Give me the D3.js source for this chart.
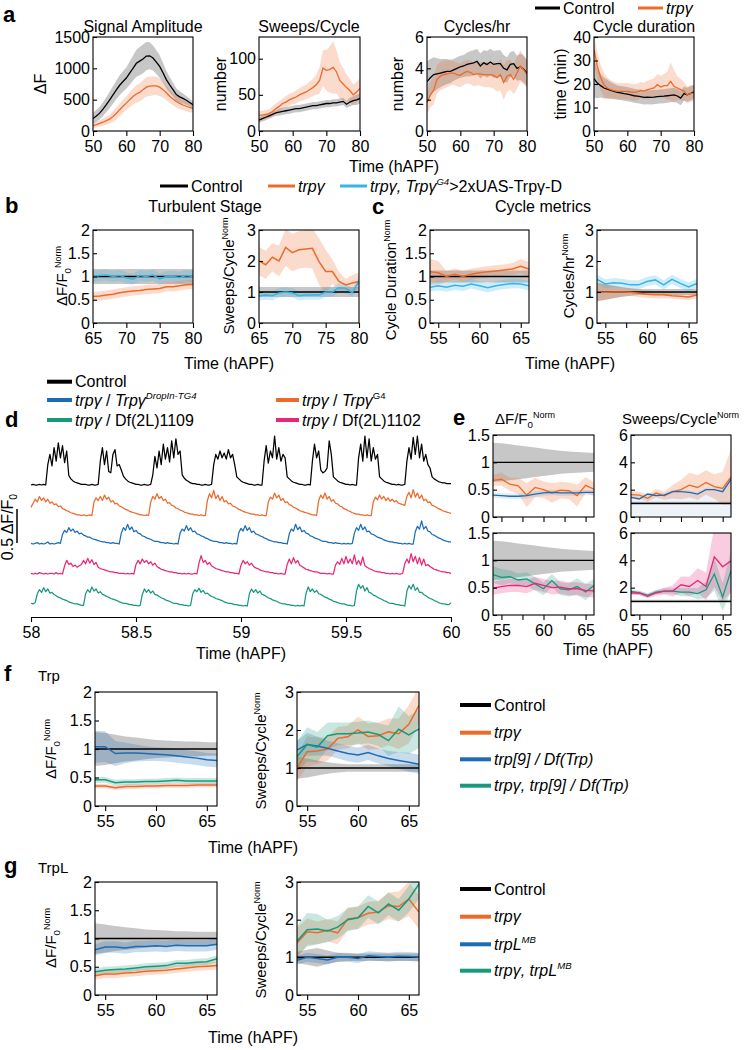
<!doctype html>
<html>
<head>
<meta charset="utf-8">
<title>Trpγ calcium cycles</title>
<script src="https://cdnjs.cloudflare.com/ajax/libs/d3/7.8.5/d3.min.js"></script>
<style>
  body { margin: 0; background: #fff; }
</style>
</head>
<body>
<div id="fig"></div>
<script>
// ---------- data: panel a (raw metrics, 50-80 hAPF) ----------
const hoursA = [50,51,52,53,54,55,56,57,58,59,60,61,62,63,64,65,66,67,68,69,70,71,72,73,74,75,76,77,78,79,80];
const ampCtrl = [200,240,285,350,420,495,575,655,730,790,845,925,1000,1080,1115,1150,1195,1200,1165,1100,1030,930,820,735,660,580,545,520,490,455,420];
const ampCtrlErr = [90,95,100,110,120,130,140,150,160,165,170,185,200,215,225,230,225,215,200,190,180,160,140,125,110,100,90,80,70,60,55];
const ampTrpg = [85,100,120,140,165,190,230,280,340,395,445,500,550,590,615,660,700,715,720,720,700,660,610,555,510,470,440,415,395,375,360];
const ampTrpgErr = [40,45,50,55,65,75,85,95,100,105,110,120,130,140,145,150,155,155,150,145,140,130,120,110,100,95,90,85,80,75,70];
const sweepsCtrl = [15,17,19,21,23,25,26,27,28,29,30,31,31,32,33,34,35,35,36,37,38,38,39,39,40,41,37,40,42,43,45];
const sweepsCtrlErr = [4,4,4,4,4,4,5,5,5,5,5,5,5,5,5,5,5,5,5,5,5,5,5,5,5,5,5,6,6,7,7];
const sweepsTrpg = [22,22,23,24,27,31,34,38,40,43,45,47,50,52,54,57,60,64,70,87,84,85,88,82,70,65,60,56,50,54,59];
const sweepsTrpgErr = [6,6,6,6,7,7,7,7,8,8,8,9,9,10,10,11,12,14,18,25,28,32,36,30,25,22,18,16,14,14,14];
const cphCtrl = [3.15,3.4,3.6,3.65,3.7,3.75,3.8,3.8,3.9,4.0,4.1,4.15,4.25,4.3,4.35,4.45,4.15,4.35,4.25,4.4,4.25,4.3,4.3,4.0,3.9,4.25,4.3,4.0,4.1,3.95,3.7];
const cphCtrlErr = [1.3,1.2,1.1,1.0,0.9,0.85,0.8,0.75,0.7,0.7,0.7,0.7,0.75,0.8,0.8,0.8,0.8,0.8,0.85,0.85,0.85,0.85,0.85,0.85,0.8,0.8,0.8,0.8,0.85,0.85,0.85];
const cphTrpg = [1.8,2.3,2.6,3.3,3.5,3.6,3.65,3.7,3.7,3.6,3.55,3.7,3.8,3.75,3.6,3.65,3.65,3.6,3.6,3.6,3.55,3.4,3.6,3.1,3.5,3.6,3.3,3.7,4.15,3.9,3.6];
const cphTrpgErr = [0.7,0.8,0.9,0.9,0.9,0.9,0.85,0.8,0.75,0.75,0.75,0.75,0.75,0.75,0.75,0.75,0.75,0.8,0.8,0.8,0.85,0.9,1.0,1.1,1.0,0.95,0.95,1.0,1.0,0.9,0.85];
const durCtrl = [22.3,20.4,19.3,18.3,17.8,17.3,16.9,16.4,16.2,15.9,15.7,15.4,15.0,14.8,14.6,14.3,14.4,14.3,14.4,14.6,14.7,14.8,15.0,15.2,15.4,14.9,14.0,15.9,15.4,16.0,16.7];
const durCtrlErr = [8,6.5,5,4.5,4,3.5,3.2,3,3,3,3,3,3,3,3,3,3,3,3,3,3,3,3,3,3,3,3,3,3,3,3];
const durTrpg = [34.7,27.6,22.6,19.7,18.3,17.6,17.2,16.9,16.9,16.9,16.9,16.6,16.4,16.6,17.3,17.0,17.6,17.9,18.3,19.7,18.7,19.3,19.3,21.1,19.0,18.3,17.6,16.9,15.4,16.0,16.1];
const durTrpgErr = [6,6,5.5,5,4.5,4,3.8,3.5,3.5,3.5,3.5,3.5,3.5,3.5,3.5,3.5,3.8,4,4.2,4.5,4.8,5,6,8,7,5,4.5,4,3.5,3.5,3.5];

// ---------- panel b (turbulent stage, normalised) ----------
const hoursB = [65,66,67,68,69,70,71,72,73,74,75,76,77,78,79,80];
const onesB = [1,1,1,1,1,1,1,1,1,1,1,1,1,1,1,1];
const bAmpTrpg = [0.57,0.58,0.6,0.62,0.65,0.67,0.69,0.7,0.72,0.73,0.74,0.78,0.78,0.8,0.82,0.83];
const bAmpRescue = [1.0,1.02,1.03,1.0,1.02,0.97,0.94,1.02,1.0,1.03,0.95,1.0,1.0,0.98,1.02,1.0];
const bSwTrpg = [2.0,1.88,2.12,2.0,2.44,2.27,2.36,2.39,2.41,1.98,1.66,1.66,1.34,1.23,1.29,1.34];
const bSwTrpgErr = [0.45,0.45,0.45,0.5,0.6,0.6,0.6,0.6,0.65,0.75,0.7,0.4,0.3,0.2,0.25,0.3];
const bSwRescue = [0.87,0.9,0.88,0.97,1.0,0.97,0.88,0.9,0.9,0.9,1.0,1.0,1.14,1.12,0.98,1.35];

// ---------- 54-66 hAPF panels (c, e, f, g) ----------
const hours = [54,55,56,57,58,59,60,61,62,63,64,65,66];
const ones = [1,1,1,1,1,1,1,1,1,1,1,1,1];
const cDurTrpg = [1.1,1.08,1.0,1.05,1.0,1.05,1.08,1.1,1.12,1.14,1.16,1.22,1.16];
const cDurTrpgErr = [0.28,0.25,0.12,0.12,0.12,0.12,0.12,0.12,0.12,0.12,0.13,0.15,0.15];
const cDurRescue = [0.77,0.8,0.77,0.81,0.79,0.84,0.8,0.76,0.8,0.83,0.85,0.84,0.8];
const cCphCtrlErr = [0.3,0.25,0.2,0.15,0.12,0.1,0.1,0.1,0.1,0.1,0.1,0.1,0.1];
const cCphTrpg = [1.0,0.99,1.0,1.0,0.99,0.96,0.93,0.91,0.91,0.88,0.86,0.84,0.9];
const cCphTrpgErr = [0.3,0.25,0.2,0.15,0.12,0.12,0.12,0.12,0.12,0.1,0.1,0.1,0.1];
const cCphRescue = [1.41,1.26,1.3,1.28,1.23,1.23,1.34,1.39,1.23,1.41,1.28,1.16,1.28];

const eAmpCtrlErr = [0.36,0.35,0.33,0.31,0.29,0.27,0.25,0.23,0.21,0.2,0.19,0.18,0.17];
const eAmpG4 = [0.67,0.69,0.6,0.57,0.4,0.54,0.5,0.44,0.49,0.48,0.39,0.58,0.51];
const eAmpG4Err = [0.1,0.12,0.12,0.15,0.22,0.18,0.15,0.18,0.15,0.15,0.2,0.15,0.12];
const eAmpDropIn = [0.4,0.39,0.38,0.38,0.39,0.42,0.44,0.45,0.44,0.44,0.44,0.45,0.45];
const eSwG4 = [1.63,1.6,1.37,1.75,1.56,1.85,2.0,2.33,2.16,2.52,2.23,2.09,2.93];
const eSwG4Err = [0.25,0.25,0.25,0.3,0.3,0.5,0.7,0.9,0.9,0.9,0.9,1.2,2.0];
const eSwDropIn = [1.44,1.32,1.68,1.56,1.6,1.85,1.85,1.8,1.68,2.0,2.0,1.85,2.76];
const eSwDropInLo = [0.1,0.1,0.1,0.1,0.1,0.1,0.1,0.1,0.1,0.1,0.1,0.1,0.1];
const eSwDropInHi = [1.6,1.5,1.8,1.7,1.75,2.0,2.0,1.95,1.85,2.15,2.15,2.0,2.9];
const eAmpDf1109 = [0.74,0.69,0.7,0.64,0.66,0.57,0.48,0.63,0.48,0.46,0.52,0.42,0.54];
const eAmpDf1109Err = [0.15,0.15,0.12,0.12,0.12,0.12,0.12,0.12,0.12,0.12,0.15,0.15,0.12];
const eAmpDf1102 = [0.49,0.52,0.54,0.54,0.52,0.58,0.54,0.5,0.51,0.48,0.48,0.45,0.44];
const eSwDf1109 = [1.73,1.61,1.44,1.68,1.75,1.75,1.68,1.68,1.56,1.85,3.0,1.32,3.24];
const eSwDf1109Err = [0.15,0.15,0.15,0.15,0.2,0.2,0.3,0.3,0.4,0.6,1.2,1.0,1.5];
const eSwDf1102 = [1.61,1.61,1.37,1.61,1.75,1.75,2.21,2.09,2.52,2.09,4.25,3.53,3.96];
const eSwDf1102Err = [0.15,0.15,0.15,0.2,0.25,0.4,0.6,0.7,0.9,1.0,2.2,2.5,2.3];

const fAmpCtrlErr = [0.3,0.28,0.25,0.22,0.2,0.18,0.16,0.15,0.14,0.13,0.13,0.12,0.12];
const fAmpTrpg = [0.35,0.35,0.32,0.34,0.34,0.35,0.35,0.36,0.36,0.36,0.37,0.37,0.37];
const fAmpTrp9 = [1.04,1.04,0.92,0.93,0.93,0.92,0.91,0.9,0.88,0.86,0.84,0.81,0.8];
const fAmpTrp9Err = [0.28,0.27,0.22,0.18,0.15,0.13,0.12,0.12,0.12,0.12,0.12,0.12,0.12];
const fAmpDouble = [0.46,0.46,0.41,0.42,0.42,0.43,0.43,0.44,0.45,0.44,0.44,0.44,0.44];
const fSwCtrlErr = [0.28,0.25,0.2,0.15,0.12,0.1,0.1,0.1,0.1,0.1,0.1,0.1,0.1];
const fSwTrpg = [1.0,1.43,1.45,1.5,1.78,1.82,2.0,1.83,1.85,1.95,1.9,2.15,2.65];
const fSwTrpgErr = [0.35,0.4,0.35,0.3,0.3,0.3,0.35,0.35,0.35,0.35,0.4,0.5,0.5];
const fSwTrp9 = [1.47,1.62,1.58,1.52,1.45,1.38,1.34,1.41,1.32,1.25,1.2,1.15,1.1];
const fSwTrp9Err = [0.25,0.3,0.25,0.2,0.2,0.2,0.2,0.2,0.2,0.2,0.22,0.25,0.25];
const fSwDouble = [1.3,1.62,1.55,1.85,1.9,1.9,1.92,1.95,1.88,1.72,2.02,1.87,2.03];
const fSwDoubleErr = [0.4,0.45,0.4,0.35,0.3,0.3,0.3,0.3,0.3,0.4,0.6,0.5,0.5];

const gAmpCtrlErr = [0.27,0.25,0.22,0.2,0.18,0.16,0.15,0.14,0.13,0.13,0.12,0.12,0.12];
const gAmpTrpg = [0.34,0.37,0.37,0.39,0.4,0.42,0.43,0.44,0.46,0.48,0.5,0.51,0.52];
const gAmpTrpL = [0.8,0.85,0.85,0.83,0.86,0.86,0.87,0.86,0.88,0.87,0.87,0.87,0.9];
const gAmpDouble = [0.41,0.44,0.45,0.46,0.48,0.5,0.51,0.52,0.56,0.56,0.58,0.59,0.64];
const gSwCtrlErr = [0.15,0.2,0.25,0.18,0.12,0.1,0.1,0.1,0.1,0.1,0.1,0.1,0.1];
const gSwTrpg = [1.38,1.68,1.65,1.72,1.65,2.02,2.05,2.17,2.2,2.37,2.35,2.55,2.2];
const gSwTrpgErr = [0.4,0.35,0.3,0.3,0.3,0.3,0.3,0.3,0.3,0.35,0.4,0.45,0.45];
const gSwTrpL = [0.92,1.0,0.97,0.93,1.0,1.0,0.97,1.04,1.02,1.0,1.03,1.02,1.0];
const gSwDouble = [1.43,1.73,1.75,1.7,1.8,2.0,2.05,2.35,2.18,2.42,2.25,2.55,2.95];
const gSwDoubleErr = [0.4,0.45,0.4,0.3,0.3,0.3,0.3,0.3,0.3,0.3,0.3,0.35,0.4];

// ---------- panel d traces: ΔF/F0 x100, sampled every 0.01 h from 58 h ----------
const traceStart = 58, traceStep = 0.01;
const traceControl = [0,1,0,0,1,0,1,0,30,45,28,55,35,62,40,58,33,50,14,9,6,4,3,2,1,1,1,0,0,1,0,0,1,35,55,30,50,20,18,45,52,28,30,22,13,9,6,4,3,2,1,1,0,0,1,0,0,1,15,42,25,50,30,60,38,55,34,65,40,68,45,50,15,10,7,5,3,2,2,1,1,0,0,1,0,0,1,30,45,38,50,40,47,38,52,40,45,30,12,9,6,4,3,2,1,1,0,0,1,0,0,35,58,32,50,40,72,38,55,35,45,40,12,9,6,4,3,2,1,1,0,0,1,0,35,60,40,50,22,18,20,25,65,45,12,9,6,4,3,2,1,1,0,1,0,0,40,60,35,72,40,68,35,55,38,45,12,9,6,4,3,2,1,1,0,1,0,0,1,35,55,38,70,45,72,40,60,35,45,30,25,12,9,7,5,4,3,3,2,2,2];
const traceG4 = [12,18,24,20,28,22,26,20,24,18,20,16,17,13,14,10,9,7,6,4,3,2,1,1,0,1,0,0,1,0,20,26,22,28,22,30,24,27,20,22,17,18,14,13,11,9,8,6,5,4,3,2,1,1,0,1,0,20,28,24,32,25,28,22,24,18,19,15,14,11,10,8,7,5,4,3,2,2,1,1,0,1,0,0,22,32,26,37,25,30,22,28,20,22,17,18,14,13,11,9,8,6,5,4,3,2,2,1,1,0,1,0,0,20,27,24,33,26,30,22,25,19,20,16,15,12,11,9,7,6,5,4,3,2,1,1,0,22,30,25,33,24,28,21,23,18,17,14,13,10,9,7,6,4,3,2,2,1,1,0,1,0,0,20,27,23,30,24,28,22,26,21,24,20,22,18,17,16,15,28,34,26,38,27,33,25,30,22,24,19,20,15,14,12,10,9,7,6,5,4,3];
const traceDropIn = [1,0,1,2,0,1,0,1,3,0,1,0,1,2,1,14,20,17,24,19,22,17,19,15,16,13,12,10,10,8,7,6,5,4,3,3,2,2,1,2,1,1,0,16,24,20,29,21,25,18,20,16,15,12,11,9,8,7,5,4,4,3,2,2,1,2,1,1,0,1,0,16,22,19,27,20,24,18,19,15,14,12,11,9,8,6,5,4,4,3,2,2,1,2,1,1,0,1,0,17,23,19,27,20,24,17,19,15,14,12,11,9,8,6,5,4,3,3,2,2,1,1,0,15,22,19,29,21,25,18,20,16,15,12,11,9,8,7,5,4,4,3,2,2,1,2,1,1,0,1,0,1,0,1,16,24,20,29,21,25,18,19,15,14,12,10,9,8,6,5,4,3,3,2,2,1,1,0,1,0,1,0,0,18,26,22,34,22,26,19,18,14,13,11,9,8,6,5,4,3,3];
const traceDf1102 = [1,0,1,0,2,1,0,1,0,1,1,0,2,0,1,0,12,20,14,16,11,13,10,12,14,20,15,23,16,21,14,17,10,8,7,6,5,4,3,3,2,2,1,1,1,0,1,0,1,0,14,20,15,22,17,20,15,18,13,16,11,9,7,6,5,4,3,3,2,2,1,1,0,1,0,1,0,0,1,0,16,27,17,20,14,17,12,10,8,7,6,5,4,3,3,2,2,1,1,0,13,20,15,18,13,16,11,9,8,6,5,4,3,3,2,2,1,1,0,1,0,0,14,22,15,24,16,20,13,11,9,7,6,5,4,3,3,2,1,1,1,0,1,0,0,13,18,14,23,15,26,16,22,15,28,14,20,13,25,12,10,8,7,5,4,3,3,2,2,1,1,0,1,0,1,0,0,1,15,22,16,30,18,26,15,24,13,22,12,14,11,9,7,6,5,4,3,3,2,2,1];
const traceDf1109 = [4,3,5,18,24,20,27,21,25,19,20,17,15,13,12,10,9,8,6,5,4,3,3,2,1,1,18,24,20,28,22,25,19,21,17,16,14,13,11,10,9,8,6,5,4,4,3,2,2,1,1,0,1,17,25,20,24,19,22,17,16,14,12,11,9,8,7,5,4,4,3,2,2,1,1,0,1,18,24,21,26,20,23,18,19,16,14,13,11,10,9,8,6,5,4,4,3,2,2,1,1,0,1,0,18,25,20,24,19,22,17,16,14,12,11,9,8,7,5,4,3,3,2,2,1,1,0,1,0,1,0,19,28,21,25,20,23,18,17,15,13,12,10,9,7,6,5,4,3,3,2,1,1,0,1,22,32,26,30,22,27,20,19,16,15,13,11,10,8,7,5,4,4,3,2,2,1,1,0,22,30,25,32,23,27,20,20,17,15,13,11,10,8,7,5,4,3,3,2,2,5];

// ---------- drawing ----------
const FONT = '"Liberation Sans", Arial, Helvetica, sans-serif';
const COL = { ctrl: '#000000', trpg: '#ec6a2a', rescue: '#38b3e6', blue: '#1c6cb3', green: '#17997e', pink: '#e7287a' };

const svg = d3.select('#fig').append('svg')
  .attr('width', 745).attr('height', 1050)
  .style('font-family', FONT);

// text with italic / superscript / subscript runs: [[text, flags], ...]
function label(x, y, parts, o = {}) {
  const fs = o.size || 16;
  const t = svg.append('text').attr('font-size', fs).attr('fill', '#000')
    .attr('text-anchor', o.anchor || 'start');
  if (o.rotate) t.attr('transform', `translate(${x},${y}) rotate(-90)`);
  else t.attr('x', x).attr('y', y);
  if (o.bold) t.attr('font-weight', 'bold');
  if (typeof parts === 'string') parts = [[parts]];
  let shift = 0;
  parts.forEach(([s, f = '']) => {
    const ts = t.append('tspan').text(s);
    if (f.includes('i')) ts.attr('font-style', 'italic');
    let target = 0;
    if (f.includes('^')) { target = -0.42 * fs; ts.attr('font-size', fs * 0.6); }
    if (f.includes('_')) { target = 0.28 * fs; ts.attr('font-size', fs * 0.65); }
    if (target !== shift) ts.attr('dy', target - shift);
    shift = target;
  });
  return t;
}

function legendItem(x1, x2, y, color, parts, lw = 4) {
  svg.append('line').attr('x1', x1).attr('x2', x2).attr('y1', y).attr('y2', y)
    .attr('stroke', color).attr('stroke-width', lw);
  label(x2 + 3, y + 5.5, parts);
}

let clipN = 0;
function plot(o) {
  const x = d3.scaleLinear().domain(o.xDomain).range([o.left, o.right]);
  const y = d3.scaleLinear().domain(o.yDomain).range([o.bottom, o.top]);
  const g = svg.append('g');
  const id = 'clip' + (clipN++);
  g.append('clipPath').attr('id', id).append('rect')
    .attr('x', o.left).attr('y', o.top)
    .attr('width', o.right - o.left).attr('height', o.bottom - o.top);
  const inner = g.append('g').attr('clip-path', `url(#${id})`);

  o.series.forEach(s => {
    const e = i => Array.isArray(s.err) ? s.err[i] : s.err;
    const lo = s.lo || s.mean.map((m, i) => m - e(i));
    const hi = s.hi || s.mean.map((m, i) => m + e(i));
    inner.append('path')
      .datum(s.x.map((t, i) => [t, lo[i], hi[i]]))
      .attr('d', d3.area().x(d => x(d[0])).y0(d => y(d[1])).y1(d => y(d[2])))
      .attr('fill', s.color)
      .attr('fill-opacity', s.bandOpacity || (s.color === COL.ctrl ? 0.22 : 0.24));
  });
  o.series.forEach(s => {
    inner.append('path')
      .datum(s.x.map((t, i) => [t, s.mean[i]]))
      .attr('d', d3.line().x(d => x(d[0])).y(d => y(d[1])))
      .attr('fill', 'none').attr('stroke', s.color).attr('stroke-width', o.lw || 1.4);
  });

  g.append('rect')
    .attr('x', o.left).attr('y', o.top)
    .attr('width', o.right - o.left).attr('height', o.bottom - o.top)
    .attr('fill', 'none').attr('stroke', '#000').attr('stroke-width', 1.1);

  const xa = g.append('g').attr('transform', `translate(0,${o.bottom})`)
    .call(d3.axisBottom(x).tickValues(o.xTicks).tickSize(5).tickPadding(5)
      .tickFormat(d => (o.xLabels || []).includes(d) ? String(d) : ''));
  // y ticks point into the frame, labels sit right against it
  const ya = g.append('g').attr('transform', `translate(${o.left},0)`)
    .call(d3.axisLeft(y).tickValues(o.yTicks).tickSize(-4).tickPadding(3)
      .tickFormat(d => String(d)));
  [xa, ya].forEach(a => {
    a.select('.domain').remove();
    a.attr('font-family', FONT).attr('font-size', 16);
    a.selectAll('line').attr('stroke', '#000').attr('stroke-width', 1.1);
    a.selectAll('text').attr('fill', '#000');
  });
  return { x, y };
}

// ===== panel a =====
label(3, 22, 'a', { size: 22, bold: true });
legendItem(535, 560, 8, COL.ctrl, [['Control']], 3);
legendItem(638, 663, 8, COL.trpg, [['trpγ', 'i']], 3);

const aBox = { top: 37, bottom: 131, xDomain: [50, 80], xTicks: [50, 60, 70, 80], xLabels: [50, 60, 70, 80], lw: 1.3 };
plot({ ...aBox, left: 93, right: 193, yDomain: [0, 1500], yTicks: [0, 500, 1000, 1500],
  series: [
    { x: hoursA, mean: ampCtrl, err: ampCtrlErr, color: COL.ctrl },
    { x: hoursA, mean: ampTrpg, err: ampTrpgErr, color: COL.trpg }] });
plot({ ...aBox, left: 259, right: 360, yDomain: [0, 130], yTicks: [0, 50, 100],
  series: [
    { x: hoursA, mean: sweepsCtrl, err: sweepsCtrlErr, color: COL.ctrl },
    { x: hoursA, mean: sweepsTrpg, err: sweepsTrpgErr, color: COL.trpg }] });
plot({ ...aBox, left: 427, right: 527, yDomain: [0, 6], yTicks: [0, 2, 4, 6],
  series: [
    { x: hoursA, mean: cphCtrl, err: cphCtrlErr, color: COL.ctrl },
    { x: hoursA, mean: cphTrpg, err: cphTrpgErr, color: COL.trpg }] });
plot({ ...aBox, left: 594, right: 694, yDomain: [0, 40], yTicks: [0, 10, 20, 30, 40],
  series: [
    { x: hoursA, mean: durCtrl, err: durCtrlErr, color: COL.ctrl },
    { x: hoursA, mean: durTrpg, err: durTrpgErr, color: COL.trpg }] });
label(143, 32, 'Signal Amplitude', { anchor: 'middle' });
label(309, 32, 'Sweeps/Cycle', { anchor: 'middle' });
label(477, 32, 'Cycles/hr', { anchor: 'middle' });
label(644, 32, 'Cycle duration', { anchor: 'middle' });
label(46, 84, 'ΔF', { rotate: true, anchor: 'middle' });
label(226, 84, 'number', { rotate: true, anchor: 'middle' });
label(403, 84, 'number', { rotate: true, anchor: 'middle' });
label(566, 84, 'time (min)', { rotate: true, anchor: 'middle' });
label(394, 172, 'Time (hAPF)', { anchor: 'middle' });

// ===== panels b, c =====
legendItem(160, 188, 186, COL.ctrl, [['Control']], 3);
legendItem(268, 295, 186, COL.trpg, [['trpγ', 'i']], 3);
legendItem(340, 367, 186, COL.rescue, [['trpγ, Trpγ', 'i'], ['G4', 'i^'], ['>2xUAS-Trpγ-D']], 3);
label(5, 213, 'b', { size: 22, bold: true });
label(372, 214, 'c', { size: 22, bold: true });
label(205, 212, 'Turbulent Stage', { anchor: 'middle' });
label(543, 212, 'Cycle metrics', { anchor: 'middle' });

const bBox = { top: 230, bottom: 323, xDomain: [65, 80], xTicks: [65, 70, 75, 80], xLabels: [65, 70, 75, 80], lw: 1.5 };
plot({ ...bBox, left: 93, right: 193, yDomain: [0, 2], yTicks: [0, 0.5, 1, 1.5, 2],
  series: [
    { x: hoursB, mean: onesB, err: 0.16, color: COL.ctrl },
    { x: hoursB, mean: bAmpTrpg, err: 0.1, color: COL.trpg },
    { x: hoursB, mean: bAmpRescue, err: 0.12, color: COL.rescue }] });
plot({ ...bBox, left: 259, right: 359, yDomain: [0, 3], yTicks: [0, 1, 2, 3],
  series: [
    { x: hoursB, mean: onesB, err: 0.16, color: COL.ctrl },
    { x: hoursB, mean: bSwTrpg, err: bSwTrpgErr, color: COL.trpg },
    { x: hoursB, mean: bSwRescue, err: 0.15, color: COL.rescue }] });

const cBox = { top: 230, bottom: 323, xDomain: [54, 66], xTicks: [55, 57.5, 60, 62.5, 65], xLabels: [55, 60, 65], lw: 1.5 };
plot({ ...cBox, left: 430, right: 529, yDomain: [0, 2], yTicks: [0, 0.5, 1, 1.5, 2],
  series: [
    { x: hours, mean: ones, err: 0.13, color: COL.ctrl },
    { x: hours, mean: cDurTrpg, err: cDurTrpgErr, color: COL.trpg },
    { x: hours, mean: cDurRescue, err: 0.1, color: COL.rescue }] });
plot({ ...cBox, left: 597, right: 697, yDomain: [0, 3], yTicks: [0, 1, 2, 3],
  series: [
    { x: hours, mean: ones, err: cCphCtrlErr, color: COL.ctrl },
    { x: hours, mean: cCphTrpg, err: cCphTrpgErr, color: COL.trpg },
    { x: hours, mean: cCphRescue, err: 0.15, color: COL.rescue }] });
label(67, 276, [['ΔF/F'], ['0', '_'], ['Norm', '^']], { rotate: true, anchor: 'middle', size: 15 });
label(234, 276, [['Sweeps/Cycle'], ['Norm', '^']], { rotate: true, anchor: 'middle', size: 15 });
label(396, 280, [['Cycle Duration'], ['Norm', '^']], { rotate: true, anchor: 'middle', size: 15 });
label(574, 276, [['Cycles/hr'], ['Norm', '^']], { rotate: true, anchor: 'middle', size: 15 });
label(229, 369, 'Time (hAPF)', { anchor: 'middle' });
label(570, 369, 'Time (hAPF)', { anchor: 'middle' });

// ===== panel d =====
label(5, 427, 'd', { size: 22, bold: true });
legendItem(47, 72, 381.7, COL.ctrl, [['Control']]);
legendItem(47, 72, 400, COL.blue, [['trpγ', 'i'], [' / '], ['Trpγ', 'i'], ['DropIn-TG4', 'i^']]);
legendItem(47, 72, 420, COL.green, [['trpγ', 'i'], [' / Df(2L)1109']]);
legendItem(276, 299, 400, COL.trpg, [['trpγ', 'i'], [' / '], ['Trpγ', 'i'], ['G4', '^']]);
legendItem(276, 299, 420, COL.pink, [['trpγ', 'i'], [' / Df(2L)1102']]);

const xd = d3.scaleLinear().domain([58, 60]).range([31, 451]);
const yd = d3.scaleLinear().domain([0, 100]).range([0, -68]);
const traces = [
  { values: traceControl, color: COL.ctrl, base: 485 },
  { values: traceG4, color: COL.trpg, base: 515.5 },
  { values: traceDropIn, color: COL.blue, base: 544 },
  { values: traceDf1102, color: COL.pink, base: 574 },
  { values: traceDf1109, color: COL.green, base: 606 }
];
traces.forEach(tr => {
  svg.append('path').datum(tr.values)
    .attr('transform', `translate(0,${tr.base})`)
    .attr('d', d3.line().x((v, i) => xd(traceStart + i * traceStep)).y(v => yd(v)))
    .attr('fill', 'none').attr('stroke', tr.color).attr('stroke-width', 1.25)
    .attr('stroke-linejoin', 'round');
});
// scale bar 0.5 ΔF/F0
svg.append('line').attr('x1', 17).attr('x2', 17)
  .attr('y1', 543).attr('y2', 543 + yd(50))
  .attr('stroke', '#000').attr('stroke-width', 1.5);
label(13, 527, [['0.5 ΔF/F'], ['0', '_']], { rotate: true, anchor: 'middle', size: 16 });
const dAxis = svg.append('g').attr('transform', 'translate(0,617)')
  .call(d3.axisBottom(xd).tickValues([58, 58.5, 59, 59.5, 60]).tickSize(5).tickSizeOuter(0).tickPadding(5)
    .tickFormat(d => String(d)));
dAxis.attr('font-family', FONT).attr('font-size', 16);
dAxis.selectAll('line, path').attr('stroke', '#000').attr('stroke-width', 1.1);
dAxis.selectAll('text').attr('fill', '#000');
label(241, 659, 'Time (hAPF)', { anchor: 'middle' });

// ===== panel e =====
label(453, 425, 'e', { size: 22, bold: true });
label(495, 424, [['ΔF/F'], ['0', '_'], ['Norm', '^']], { size: 15 });
label(622, 424, [['Sweeps/Cycle'], ['Norm', '^']], { size: 15 });
const eTicks = [55, 57.5, 60, 62.5, 65];
const eL = { left: 493, right: 594, xDomain: [54, 66], xTicks: eTicks, yDomain: [0, 1.5], yTicks: [0, 0.5, 1, 1.5], lw: 1.3 };
const eR = { left: 631, right: 731, xDomain: [54, 66], xTicks: eTicks, yDomain: [0, 6], yTicks: [0, 2, 4, 6], lw: 1.3 };
plot({ ...eL, top: 435, bottom: 517, xLabels: [],
  series: [
    { x: hours, mean: ones, err: eAmpCtrlErr, color: COL.ctrl },
    { x: hours, mean: eAmpG4, err: eAmpG4Err, color: COL.trpg },
    { x: hours, mean: eAmpDropIn, err: 0.05, color: COL.blue, bandOpacity: 0.12 }] });
plot({ ...eR, top: 435, bottom: 517, xLabels: [],
  series: [
    { x: hours, mean: ones, err: 0.12, color: COL.ctrl },
    { x: hours, mean: eSwG4, err: eSwG4Err, color: COL.trpg },
    { x: hours, mean: eSwDropIn, lo: eSwDropInLo, hi: eSwDropInHi, color: COL.blue, bandOpacity: 0.08 }] });
plot({ ...eL, top: 533, bottom: 615, xLabels: [55, 60, 65],
  series: [
    { x: hours, mean: ones, err: eAmpCtrlErr, color: COL.ctrl },
    { x: hours, mean: eAmpDf1109, err: eAmpDf1109Err, color: COL.green },
    { x: hours, mean: eAmpDf1102, err: 0.12, color: COL.pink }] });
plot({ ...eR, top: 533, bottom: 615, xLabels: [55, 60, 65],
  series: [
    { x: hours, mean: ones, err: 0.12, color: COL.ctrl },
    { x: hours, mean: eSwDf1109, err: eSwDf1109Err, color: COL.green },
    { x: hours, mean: eSwDf1102, err: eSwDf1102Err, color: COL.pink }] });
label(608, 655, 'Time (hAPF)', { anchor: 'middle' });

// ===== panel f =====
label(4, 681, 'f', { size: 22, bold: true });
label(38, 681, 'Trp', { size: 15 });
const fgTicks = { xDomain: [54, 66], xTicks: [55, 60, 65], xLabels: [55, 60, 65], lw: 1.5 };
plot({ ...fgTicks, left: 95, right: 217, top: 692, bottom: 806, yDomain: [0, 2], yTicks: [0, 0.5, 1, 1.5, 2],
  series: [
    { x: hours, mean: ones, err: fAmpCtrlErr, color: COL.ctrl },
    { x: hours, mean: fAmpTrpg, err: 0.04, color: COL.trpg },
    { x: hours, mean: fAmpTrp9, err: fAmpTrp9Err, color: COL.blue },
    { x: hours, mean: fAmpDouble, err: 0.05, color: COL.green }] });
plot({ ...fgTicks, left: 297, right: 419, top: 692, bottom: 806, yDomain: [0, 3], yTicks: [0, 1, 2, 3],
  series: [
    { x: hours, mean: ones, err: fSwCtrlErr, color: COL.ctrl },
    { x: hours, mean: fSwTrpg, err: fSwTrpgErr, color: COL.trpg },
    { x: hours, mean: fSwTrp9, err: fSwTrp9Err, color: COL.blue },
    { x: hours, mean: fSwDouble, err: fSwDoubleErr, color: COL.green }] });
label(56, 749, [['ΔF/F'], ['0', '_'], ['Norm', '^']], { rotate: true, anchor: 'middle', size: 15 });
label(266, 751, [['Sweeps/Cycle'], ['Norm', '^']], { rotate: true, anchor: 'middle', size: 15 });
label(253, 853, 'Time (hAPF)', { anchor: 'middle' });
legendItem(460, 491, 705, COL.ctrl, [['Control']]);
legendItem(460, 491, 732.7, COL.trpg, [['trpγ', 'i']]);
legendItem(460, 491, 759.3, COL.blue, [['trp[9] / Df(Trp)', 'i']]);
legendItem(460, 491, 785.7, COL.green, [['trpγ, trp[9] / Df(Trp)', 'i']]);

// ===== panel g =====
label(4, 873, 'g', { size: 22, bold: true });
label(38, 873, 'TrpL', { size: 15 });
plot({ ...fgTicks, left: 95, right: 217, top: 882, bottom: 995, yDomain: [0, 2], yTicks: [0, 0.5, 1, 1.5, 2],
  series: [
    { x: hours, mean: ones, err: gAmpCtrlErr, color: COL.ctrl },
    { x: hours, mean: gAmpTrpg, err: 0.07, color: COL.trpg },
    { x: hours, mean: gAmpTrpL, err: 0.1, color: COL.blue },
    { x: hours, mean: gAmpDouble, err: 0.06, color: COL.green }] });
plot({ ...fgTicks, left: 297, right: 419, top: 882, bottom: 995, yDomain: [0, 3], yTicks: [0, 1, 2, 3],
  series: [
    { x: hours, mean: ones, err: gSwCtrlErr, color: COL.ctrl },
    { x: hours, mean: gSwTrpg, err: gSwTrpgErr, color: COL.trpg },
    { x: hours, mean: gSwTrpL, err: 0.12, color: COL.blue },
    { x: hours, mean: gSwDouble, err: gSwDoubleErr, color: COL.green }] });
label(56, 938, [['ΔF/F'], ['0', '_'], ['Norm', '^']], { rotate: true, anchor: 'middle', size: 15 });
label(266, 940, [['Sweeps/Cycle'], ['Norm', '^']], { rotate: true, anchor: 'middle', size: 15 });
label(253, 1043, 'Time (hAPF)', { anchor: 'middle' });
legendItem(460, 491, 889, COL.ctrl, [['Control']]);
legendItem(460, 491, 916.7, COL.trpg, [['trpγ', 'i']]);
legendItem(460, 491, 944.3, COL.blue, [['trpL', 'i'], ['MB', 'i^']]);
legendItem(460, 491, 970.7, COL.green, [['trpγ, trpL', 'i'], ['MB', 'i^']]);
</script>
</body>
</html>
